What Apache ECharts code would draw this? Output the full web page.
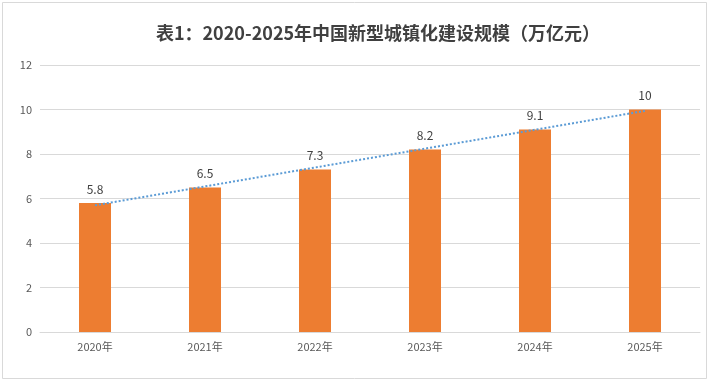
<!DOCTYPE html>
<html>
<head>
<meta charset="utf-8">
<script src="https://cdn.jsdelivr.net/npm/echarts@6/dist/echarts.min.js"></script>
<style>html,body{margin:0;padding:0;background:#fff;}#c{width:713px;height:382px;}</style>
</head>
<body>
<div id="c"></div>
<script>
const titleText = '表1：2020-2025年中国新型城镇化建设规模（万亿元）';
const categories = ['2020年', '2021年', '2022年', '2023年', '2024年', '2025年'];
const values = [5.8, 6.5, 7.3, 8.2, 9.1, 10];
const yTicks = { min: 0, max: 12, interval: 2 };

// linear trendline (least squares) from the series values
function trend(v) {
  const n = v.length;
  const mx = (n - 1) / 2;
  const my = v.reduce((a, b) => a + b, 0) / n;
  let sxy = 0, sxx = 0;
  v.forEach((y, i) => { sxy += (i - mx) * (y - my); sxx += (i - mx) * (i - mx); });
  const b = sxy / sxx, a = my - b * mx;
  return v.map((_, i) => +(a + b * i).toFixed(4));
}
const trendValues = trend(values);

const font = "'Noto Sans CJK SC', 'Liberation Sans', sans-serif";
const chart = echarts.init(document.getElementById('c'), null, { renderer: 'canvas' });
chart.setOption({
  animation: false,
  backgroundColor: '#ffffff',
  textStyle: { fontFamily: font },
  title: {
    text: titleText,
    left: 373, top: 19, textAlign: 'center',
    textStyle: { fontFamily: font, fontSize: 18, fontWeight: 'bold', color: '#404040' }
  },
  graphic: [{
    type: 'rect', shape: { x: 2.5, y: 2.5, width: 704, height: 376 },
    style: { fill: 'none', stroke: '#d9d9d9', lineWidth: 1 }, silent: true
  }],
  grid: { left: 40, right: 13, top: 65, bottom: 50 },
  xAxis: {
    type: 'category', data: categories,
    axisLine: { lineStyle: { color: '#d9d9d9' } },
    axisTick: { show: false },
    axisLabel: { color: '#595959', fontSize: 11, margin: 9, fontFamily: font }
  },
  yAxis: {
    type: 'value', min: yTicks.min, max: yTicks.max, interval: yTicks.interval,
    axisLine: { show: false }, axisTick: { show: false },
    splitLine: { lineStyle: { color: '#d9d9d9' } },
    axisLabel: { color: '#595959', fontSize: 11, margin: 8, fontFamily: font }
  },
  series: [{
    type: 'bar', data: values, barWidth: 32,
    itemStyle: { color: '#ED7D31' },
    label: { show: true, position: 'top', distance: 8, color: '#404040', fontSize: 12, fontFamily: font },
    z: 2
  }, {
    type: 'line', data: trendValues, symbol: 'none', silent: true,
    lineStyle: { color: '#5B9BD5', width: 2, type: [2, 2] },
    z: 3
  }]
});
</script>
</body>
</html>
